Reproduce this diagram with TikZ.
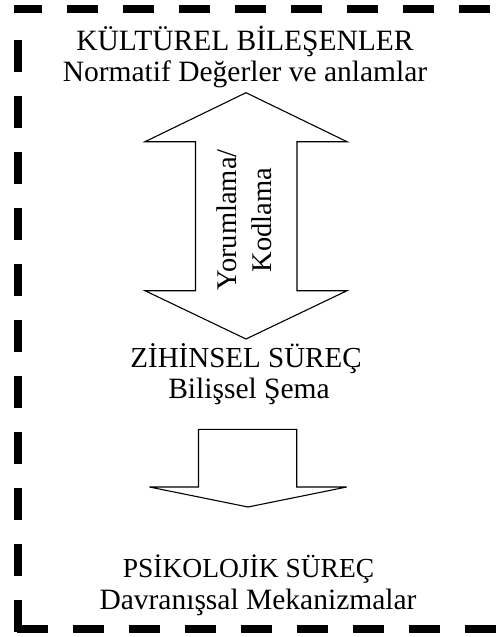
\documentclass[tikz,border=0pt]{standalone}
\usepackage{fontspec}
\setmainfont{Liberation Serif}
\begin{document}
\begin{tikzpicture}[x=1pt,y=-1pt,
  frame/.style={line width=8pt, black},
  blockarrow/.style={draw=black, line width=1.1pt, fill=white, line join=miter},
  lbl/.style={inner sep=0pt, anchor=base, font=\fontsize{29.5}{32}\selectfont}]
\useasboundingbox (0,0) rectangle (497,637);
\clip (0,0) rectangle (497,637);
% dashed frame (right side lies outside the picture)
\draw[frame, dash pattern=on 31 off 25, dash phase=3] (13.5,9) -- (520,9);
\draw[frame, dash pattern=on 32 off 24] (17.5,40) -- (17.5,633);
\draw[frame, dash pattern=on 31 off 25, dash phase=-3] (13.5,629) -- (520,629);
% double arrow
\draw[blockarrow] (246,92.7) -- (347,141.7) -- (297,141.7) -- (297,290.7) -- (347,290.7)
  -- (246,339) -- (145,290.7) -- (195.5,290.7) -- (195.5,141.7) -- (145,141.7) -- cycle;
% down arrow
\draw[blockarrow] (198.5,429.3) -- (296.7,429.3) -- (296.7,487) -- (346.7,487)
  -- (248,507) -- (149.5,487) -- (198.5,487) -- cycle;
% texts
\node[lbl] (k1) at (245,50) {KÜLTÜREL BİLEŞENLER};
\node[lbl] (k2) at (245,81) {Normatif Değerler ve anlamlar};
\node[lbl, font=\fontsize{29}{32}\selectfont] (z1) at (246,367) {ZİHİNSEL SÜREÇ};
\node[lbl] (z2) at (249,398) {Bilişsel Şema};
\node[lbl, font=\fontsize{27.5}{32}\selectfont] (p1) at (248.5,577) {PSİKOLOJİK SÜREÇ};
\node[lbl] (p2) at (258,609) {Davranışsal Mekanizmalar};
\node[inner sep=0pt, rotate=90, align=center, font=\fontsize{28.5}{35}\selectfont] (yk) at (244,220) {Yorumlama/\\Kodlama};
\end{tikzpicture}
\end{document}
